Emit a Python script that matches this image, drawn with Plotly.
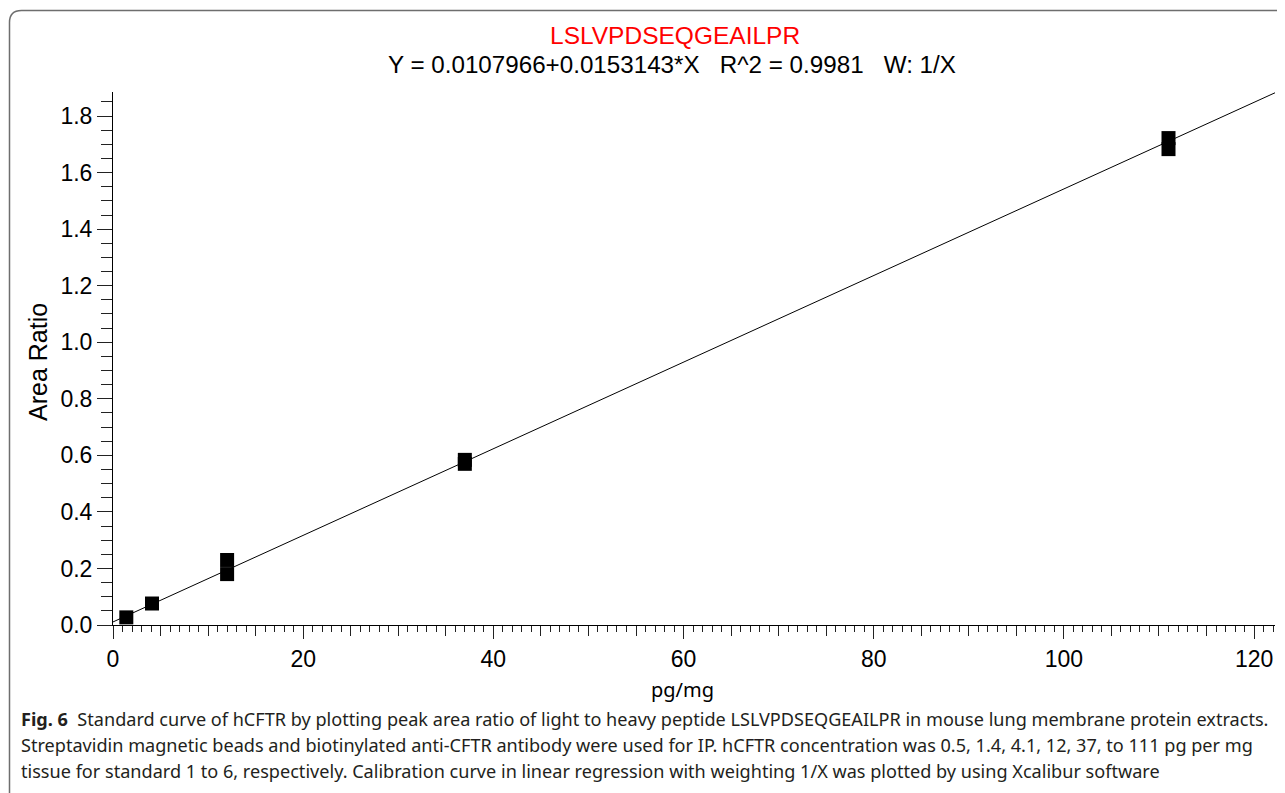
import plotly.graph_objects as go

# ---- data ----
peptide = "LSLVPDSEQGEAILPR"
intercept = 0.0107966
slope = 0.0153143
r2 = 0.9981
weighting = "1/X"
conc_x = [1.4, 4.1, 12, 12, 37, 37, 111, 111]
area_ratio = [0.027, 0.076, 0.180, 0.230, 0.570, 0.584, 1.683, 1.722]
x_ticks = [0, 20, 40, 60, 80, 100, 120]
x_max = 122.2
y_max = 1.885

caption_lines = [
    "<b>Fig. 6</b>\u00a0\u00a0Standard curve of hCFTR by plotting peak area ratio of light to heavy peptide LSLVPDSEQGEAILPR in mouse lung membrane protein extracts.",
    "Streptavidin magnetic beads and biotinylated anti-CFTR antibody were used for IP. hCFTR concentration was 0.5, 1.4, 4.1, 12, 37, to 111 pg per mg",
    "tissue for standard 1 to 6, respectively. Calibration curve in linear regression with weighting 1/X was plotted by using Xcalibur software",
]

OFF = 8  # page body margin
W, H = 1285, 793
L = 113 - OFF
T = 92 - OFF
R = W - (1275 - OFF)
B = H - (625 - OFF)
PW, PH = W - L - R, H - T - B


def px(xp):
    return (xp - OFF - L) / PW


def py(yp):
    return (H - B - (yp - OFF)) / PH


line_x = [0, x_max]
line_y = [intercept + slope * v for v in line_x]

fig = go.Figure()
fig.add_trace(go.Scatter(x=line_x, y=line_y, mode="lines",
                         line=dict(color="black", width=1), showlegend=False))
fig.add_trace(go.Scatter(x=conc_x, y=area_ratio, mode="markers",
                         marker=dict(symbol="square", size=14, color="black",
                                     line=dict(width=0)),
                         showlegend=False))
fig.add_trace(go.Scatter(x=[0], y=[0], xaxis="x2", mode="markers",
                         marker=dict(opacity=0), showlegend=False, hoverinfo="skip"))

tick_font = dict(family="Liberation Sans, Arial", size=23, color="black")

fig.update_layout(
    width=W, height=H,
    margin=dict(l=L, r=R, t=T, b=B),
    paper_bgcolor="white", plot_bgcolor="white",
    xaxis=dict(range=[0, x_max], tickvals=x_ticks, ticks="outside", ticklen=13,
               tickwidth=1, tickcolor="#222", showline=True, linecolor="black",
               linewidth=1, showgrid=False, zeroline=False, tickfont=tick_font,
               minor=dict(dtick=1, tick0=0, ticks="outside", ticklen=6,
                          tickwidth=1, tickcolor="#222", showgrid=False)),
    xaxis2=dict(range=[0, x_max], overlaying="x", side="bottom", dtick=5, tick0=0,
                ticks="outside", ticklen=10, tickwidth=1, tickcolor="#222",
                showticklabels=False, showgrid=False, zeroline=False,
                showline=False, anchor="y"),
    yaxis=dict(range=[0, y_max], dtick=0.2, tick0=0, tickformat=".1f",
               ticks="outside", ticklen=15, tickwidth=1, tickcolor="#222",
               showline=True, linecolor="black", linewidth=1, showgrid=False,
               zeroline=False, tickfont=tick_font,
               minor=dict(dtick=0.05, tick0=0, ticks="outside", ticklen=11,
                          tickwidth=1, tickcolor="#222", showgrid=False)),
)

annos = [
    dict(text=peptide, x=px(675), y=py(36), font=dict(family="Liberation Sans, Arial", size=24.5, color="red")),
    dict(text=f"Y = {intercept}+{slope}*X\u00a0\u00a0\u00a0R^2 = {r2}\u00a0\u00a0\u00a0W: {weighting}",
         x=px(672), y=py(64), font=dict(family="Liberation Sans, Arial", size=24.2, color="black")),
    dict(text="Area Ratio", x=px(38), y=py(362), textangle=-90,
         font=dict(family="Liberation Sans, Arial", size=25, color="black")),
    dict(text="pg/mg", x=px(682), y=py(689),
         font=dict(family="Noto Sans", size=20, color="black")),
]
for a in annos:
    a.update(xref="paper", yref="paper", showarrow=False, xanchor="center", yanchor="middle")
    fig.add_annotation(**a)

cap_y = [719, 745, 771]
for txt, yy in zip(caption_lines, cap_y):
    fig.add_annotation(text=txt, x=px(19), y=py(yy), xref="paper", yref="paper",
                       showarrow=False, xanchor="left", yanchor="middle",
                       font=dict(family="Noto Sans", size=18.1, color="#231f20"))

# rounded frame (top-left corner)
x0, y0, rad = 9.5, 10.5, 12
path = (f"M {px(x0)},{py(820)} L {px(x0)},{py(y0 + rad)} "
        f"Q {px(x0)},{py(y0)} {px(x0 + rad)},{py(y0)} L {px(1320)},{py(y0)}")
fig.add_shape(type="path", path=path, xref="paper", yref="paper",
              line=dict(color="#6e6e6e", width=1.5), layer="below")

fig.write_html("out.html")
